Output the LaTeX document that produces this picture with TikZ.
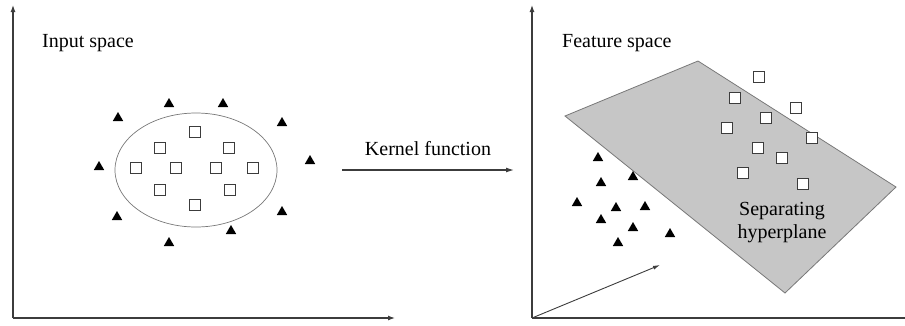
\documentclass[tikz,border=0pt]{standalone}
\usepackage{fontspec}
\setmainfont{Liberation Serif}
\usetikzlibrary{arrows.meta}
\definecolor{planegray}{RGB}{198,198,198}
\definecolor{edgegray}{RGB}{120,120,120}
\definecolor{inkgray}{RGB}{60,60,60}
\tikzset{
  sq/.style={draw=inkgray, fill=white, line width=1.2pt, minimum size=10.5pt, inner sep=0pt},
  tri/.style={regular polygon, regular polygon sides=3, fill=black, draw=none, minimum size=12pt, inner sep=0pt},
  axis/.style={draw=inkgray, line width=1.2pt, -{Latex[length=7pt,width=5pt]}},
  lbl/.style={font=\fontsize{20}{23}\selectfont, text=black, inner sep=0pt},
}
\usetikzlibrary{shapes.geometric}
\begin{document}
\begin{tikzpicture}[x=1pt,y=-1pt]
\useasboundingbox (0,0) rectangle (905,325);
% ---------- left panel ----------
\coordinate (o1) at (13,318);
\coordinate (y1) at (13,5);
\coordinate (x1) at (395,318);
\draw[axis] (o1) -- (y1);
\draw[axis] (o1) -- (x1);
\node[lbl, anchor=west] (inlbl) at (42,43) {Input space};
\node[draw=edgegray, line width=0.7pt, ellipse, minimum width=162pt, minimum height=114pt, inner sep=0pt] (ell) at (196,170) {};
% squares inside
\foreach \n/\x/\y in {a/195/132, b/160/148, c/229/148, d/136/168, e/176/168, f/216/168, g/253/168, h/160/190, i/230/190, j/195/205}
  \node[sq] (s1\n) at (\x,\y) {};
% triangles outside
\foreach \n/\x/\y in {a/169/104, b/223/104, c/118/118, d/282/123, e/99/167, f/310/161, g/117/217, h/282/212, i/231/231, j/169/243}
  \node[tri] (t1\n) at (\x,\y) {};
% ---------- kernel arrow ----------
\coordinate (k1) at (342,170);
\coordinate (k2) at (514,170);
\draw[draw=inkgray, line width=1.2pt, -{Latex[length=8pt,width=5pt]}] (k1) -- (k2);
\node[lbl] (klbl) at (428,149) {Kernel function};
% ---------- right panel ----------
\coordinate (o2) at (532,318);
\coordinate (y2) at (532,5);
\coordinate (x2) at (912,318);
\coordinate (z2) at (660,265);
\draw[axis] (o2) -- (y2);
\draw[axis] (o2) -- (x2);
\draw[draw=inkgray, line width=0.9pt, -{Latex[length=7pt,width=4pt]}] (o2) -- (z2);
\node[lbl, anchor=west] (flbl) at (562,43) {Feature space};
% hyperplane
\coordinate (pT) at (698,61);
\coordinate (pL) at (565,116);
\coordinate (pB) at (785,293);
\coordinate (pR) at (896,187);
\draw[draw=edgegray, fill=planegray, line width=0.8pt] (pT) -- (pL) -- (pB) -- (pR) -- cycle;
\node[lbl, align=center] (hlbl) at (782,223) {Separating\\hyperplane};
% squares on plane
\foreach \n/\x/\y in {a/759/77, b/735/98, c/796/108, d/766/118, e/727/128, f/812/138, g/758/148, h/782/158, i/743/173, j/803/184}
  \node[sq] (s2\n) at (\x,\y) {};
% triangles
\foreach \n/\x/\y in {a/598/158, b/601/183, c/633/177, d/577/203, e/616/208, f/645/207, g/601/220, h/633/228, i/670/234, j/618/243}
  \node[tri] (t2\n) at (\x,\y) {};
\end{tikzpicture}
\end{document}
